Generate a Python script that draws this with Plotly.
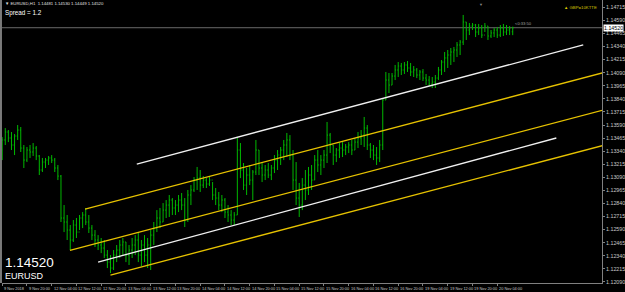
import plotly.graph_objects as go

# ---------------- data (EURUSD, H1) ----------------
opens = [1.13351, 1.13447, 1.13523, 1.13466, 1.13399, 1.13485, 1.13542, 1.13370, 1.13255, 1.13351,
         1.13332, 1.13370, 1.13294, 1.13160, 1.13236, 1.13255, 1.13275, 1.13255, 1.13179, 1.13102,
         1.12701, 1.12663, 1.12586, 1.12491, 1.12634, 1.12567, 1.12701, 1.12730, 1.12663, 1.12605,
         1.12538, 1.12491, 1.12443, 1.12414, 1.12347, 1.12280, 1.12223, 1.12347, 1.12395, 1.12443,
         1.12472, 1.12347, 1.12395, 1.12443, 1.12491, 1.12347, 1.12443, 1.12347, 1.12443, 1.12538,
         1.12605, 1.12701, 1.12663, 1.12777, 1.12825, 1.12873, 1.12797, 1.12825, 1.12873, 1.12825,
         1.12682, 1.12921, 1.12969, 1.13064, 1.13083, 1.13016, 1.13064, 1.13026, 1.13064, 1.12921,
         1.12892, 1.12825, 1.12873, 1.12758, 1.12730, 1.12682, 1.12730, 1.13351, 1.13160, 1.13016,
         1.13112, 1.13064, 1.13141, 1.13351, 1.13179, 1.13112, 1.13160, 1.13112, 1.13179, 1.13255,
         1.13303, 1.13351, 1.13399, 1.13447, 1.13303, 1.13064, 1.12892, 1.12825, 1.13016, 1.12969,
         1.13112, 1.13064, 1.13255, 1.13208, 1.13255, 1.13303, 1.13494, 1.13399, 1.13303, 1.13351,
         1.13370, 1.13351, 1.13380, 1.13399, 1.13351, 1.13427, 1.13466, 1.13494, 1.13561, 1.13399,
         1.13351, 1.13303, 1.13275, 1.13399, 1.13829, 1.14020, 1.13972, 1.14058, 1.14116, 1.14154,
         1.14116, 1.14164, 1.14135, 1.14097, 1.14116, 1.14068, 1.14097, 1.14039, 1.14020, 1.13982,
         1.14001, 1.14039, 1.14116, 1.14192, 1.14231, 1.14259, 1.14288, 1.14307, 1.14355, 1.14383,
         1.14575, 1.14498, 1.14536, 1.14546, 1.14479, 1.14517, 1.14450, 1.14536, 1.14441, 1.14470,
         1.14498, 1.14450, 1.14517, 1.14479, 1.14498, 1.14481]

highs = [1.13475, 1.13561, 1.13542, 1.13523, 1.13504, 1.13590, 1.13571, 1.13399, 1.13380, 1.13399,
         1.13418, 1.13389, 1.13303, 1.13275, 1.13275, 1.13294, 1.13303, 1.13275, 1.13208, 1.13112,
         1.12825, 1.12730, 1.12634, 1.12682, 1.12701, 1.12730, 1.12758, 1.12797, 1.12730, 1.12634,
         1.12586, 1.12538, 1.12510, 1.12491, 1.12395, 1.12347, 1.12395, 1.12443, 1.12491, 1.12510,
         1.12472, 1.12443, 1.12510, 1.12538, 1.12567, 1.12491, 1.12538, 1.12510, 1.12586, 1.12663,
         1.12777, 1.12797, 1.12844, 1.12873, 1.12921, 1.12892, 1.12873, 1.12921, 1.12940, 1.12892,
         1.12969, 1.13016, 1.13093, 1.13189, 1.13160, 1.13102, 1.13083, 1.13102, 1.13045, 1.12988,
         1.12950, 1.12921, 1.12892, 1.12825, 1.12777, 1.12758, 1.13466, 1.13418, 1.13227, 1.13179,
         1.13208, 1.13160, 1.13447, 1.13351, 1.13227, 1.13208, 1.13227, 1.13208, 1.13303, 1.13351,
         1.13380, 1.13447, 1.13514, 1.13494, 1.13351, 1.13236, 1.13036, 1.13083, 1.13160, 1.13189,
         1.13208, 1.13303, 1.13351, 1.13303, 1.13351, 1.13619, 1.13514, 1.13399, 1.13370, 1.13418,
         1.13427, 1.13408, 1.13427, 1.13447, 1.13466, 1.13523, 1.13542, 1.13667, 1.13590, 1.13418,
         1.13399, 1.13380, 1.13447, 1.13848, 1.14097, 1.14087, 1.14087, 1.14164, 1.14192, 1.14183,
         1.14192, 1.14202, 1.14183, 1.14154, 1.14135, 1.14116, 1.14125, 1.14078, 1.14058, 1.14049,
         1.14068, 1.14145, 1.14211, 1.14288, 1.14307, 1.14326, 1.14336, 1.14383, 1.14403, 1.14642,
         1.14575, 1.14565, 1.14565, 1.14556, 1.14556, 1.14546, 1.14565, 1.14536, 1.14498, 1.14517,
         1.14527, 1.14546, 1.14556, 1.14546, 1.14536, 1.14530]

lows = [1.13255, 1.13399, 1.13427, 1.13351, 1.13303, 1.13447, 1.13332, 1.13179, 1.13236, 1.13275,
        1.13294, 1.13255, 1.13112, 1.13141, 1.13179, 1.13208, 1.13227, 1.13141, 1.13064, 1.12663,
        1.12567, 1.12491, 1.12395, 1.12472, 1.12510, 1.12586, 1.12605, 1.12634, 1.12558, 1.12491,
        1.12424, 1.12395, 1.12366, 1.12319, 1.12223, 1.12175, 1.12204, 1.12280, 1.12319, 1.12347,
        1.12280, 1.12252, 1.12319, 1.12347, 1.12280, 1.12242, 1.12280, 1.12223, 1.12204, 1.12443,
        1.12567, 1.12605, 1.12663, 1.12701, 1.12711, 1.12730, 1.12730, 1.12758, 1.12777, 1.12615,
        1.12663, 1.12825, 1.12950, 1.12969, 1.12950, 1.12988, 1.12988, 1.13007, 1.12873, 1.12825,
        1.12777, 1.12758, 1.12701, 1.12663, 1.12634, 1.12634, 1.12730, 1.13083, 1.12969, 1.12921,
        1.13016, 1.12873, 1.13112, 1.13112, 1.13045, 1.13064, 1.13083, 1.13064, 1.13131, 1.13160,
        1.13208, 1.13255, 1.13284, 1.13255, 1.12969, 1.12825, 1.12711, 1.12777, 1.12873, 1.12921,
        1.12969, 1.13064, 1.13141, 1.13112, 1.13179, 1.13227, 1.13322, 1.13208, 1.13236, 1.13275,
        1.13284, 1.13303, 1.13322, 1.13303, 1.13351, 1.13370, 1.13399, 1.13380, 1.13351, 1.13275,
        1.13255, 1.13208, 1.13236, 1.13351, 1.13829, 1.13896, 1.13972, 1.14020, 1.14049, 1.14068,
        1.14078, 1.14097, 1.14058, 1.14049, 1.14039, 1.14020, 1.14011, 1.13972, 1.13963, 1.13944,
        1.13944, 1.14020, 1.14068, 1.14097, 1.14135, 1.14164, 1.14192, 1.14240, 1.14259, 1.14355,
        1.14403, 1.14450, 1.14498, 1.14431, 1.14450, 1.14422, 1.14479, 1.14403, 1.14422, 1.14431,
        1.14422, 1.14431, 1.14441, 1.14450, 1.14450, 1.14449]

closes = [1.13447, 1.13523, 1.13466, 1.13399, 1.13485, 1.13542, 1.13370, 1.13255, 1.13351, 1.13332,
          1.13370, 1.13294, 1.13160, 1.13236, 1.13255, 1.13275, 1.13255, 1.13179, 1.13102, 1.12701,
          1.12663, 1.12586, 1.12491, 1.12634, 1.12567, 1.12701, 1.12730, 1.12663, 1.12605, 1.12538,
          1.12491, 1.12443, 1.12414, 1.12347, 1.12280, 1.12223, 1.12347, 1.12395, 1.12443, 1.12472,
          1.12347, 1.12395, 1.12443, 1.12491, 1.12347, 1.12443, 1.12347, 1.12443, 1.12538, 1.12605,
          1.12701, 1.12663, 1.12777, 1.12825, 1.12873, 1.12797, 1.12825, 1.12873, 1.12825, 1.12682,
          1.12921, 1.12969, 1.13064, 1.13083, 1.13016, 1.13064, 1.13026, 1.13064, 1.12921, 1.12892,
          1.12825, 1.12873, 1.12758, 1.12730, 1.12682, 1.12730, 1.13351, 1.13160, 1.13016, 1.13112,
          1.13064, 1.13141, 1.13351, 1.13179, 1.13112, 1.13160, 1.13112, 1.13179, 1.13255, 1.13303,
          1.13351, 1.13399, 1.13447, 1.13303, 1.13064, 1.12892, 1.12825, 1.13016, 1.12969, 1.13112,
          1.13064, 1.13255, 1.13208, 1.13255, 1.13303, 1.13494, 1.13399, 1.13303, 1.13351, 1.13370,
          1.13351, 1.13380, 1.13399, 1.13351, 1.13427, 1.13466, 1.13494, 1.13561, 1.13399, 1.13351,
          1.13303, 1.13275, 1.13399, 1.13829, 1.14020, 1.13972, 1.14058, 1.14116, 1.14154, 1.14116,
          1.14164, 1.14135, 1.14097, 1.14116, 1.14068, 1.14097, 1.14039, 1.14020, 1.13982, 1.14001,
          1.14039, 1.14116, 1.14192, 1.14231, 1.14259, 1.14288, 1.14307, 1.14355, 1.14383, 1.14575,
          1.14498, 1.14536, 1.14546, 1.14479, 1.14517, 1.14450, 1.14536, 1.14441, 1.14470, 1.14498,
          1.14450, 1.14517, 1.14479, 1.14498, 1.14517, 1.14520]

time_labels = ["9 Nov 2018", "9 Nov 20:00", "12 Nov 04:00", "12 Nov 12:00", "12 Nov 20:00",
               "13 Nov 04:00", "13 Nov 12:00", "13 Nov 20:00", "14 Nov 04:00", "14 Nov 12:00",
               "14 Nov 20:00", "15 Nov 04:00", "15 Nov 12:00", "15 Nov 20:00", "16 Nov 04:00",
               "16 Nov 12:00", "16 Nov 20:00", "19 Nov 04:00", "19 Nov 12:00", "19 Nov 20:00",
               "20 Nov 04:00"]
bars_per_label = 8

price_labels = ["1.14715", "1.14590", "1.14465", "1.14340", "1.14215", "1.14090", "1.13965",
                "1.13840", "1.13715", "1.13590", "1.13465", "1.13340", "1.13215", "1.13090",
                "1.12965", "1.12840", "1.12715", "1.12590", "1.12465", "1.12340", "1.12215",
                "1.12090"]

bid_price = 1.14520

# trend lines: (bar, price) anchors
white_x0 = [43.5, 31.0]
white_y0 = [1.13217, 1.12280]
white_x1 = [187.8, 179.1]
white_y1 = [1.14355, 1.13466]

yellow_x0 = [26.8, 21.9, 35.0]
yellow_y0 = [1.12787, 1.12392, 1.12156]
yellow_x1 = [200.0, 200.0, 200.0]
yellow_y1 = [1.14135, 1.13778, 1.13440]

# ---------------- figure ----------------
GREEN = "#00b800"
AXIS = "#808080"
TXT = "#c8c8c8"
FONT = "Liberation Sans, Arial, sans-serif"

bars = list(range(len(closes)))

fig = go.Figure()
fig.add_trace(go.Ohlc(
    x=bars, open=opens, high=highs, low=lows, close=closes,
    increasing=dict(line=dict(color=GREEN, width=1)),
    decreasing=dict(line=dict(color=GREEN, width=1)),
    tickwidth=0.3, hoverinfo="skip", showlegend=False))


def seg(x0s, y0s, x1s, y1s):
    xs, ys = [], []
    for a, b, c, d in zip(x0s, y0s, x1s, y1s):
        xs += [a, c, None]
        ys += [b, d, None]
    return xs, ys


wx, wy = seg(white_x0, white_y0, white_x1, white_y1)
yx, yy = seg(yellow_x0, yellow_y0, yellow_x1, yellow_y1)
fig.add_trace(go.Scatter(x=yx, y=yy, mode="lines", line=dict(color="#e6c200", width=1.3),
                         hoverinfo="skip", showlegend=False))
fig.add_trace(go.Scatter(x=wx, y=wy, mode="lines", line=dict(color="#f0f0f0", width=1.3),
                         hoverinfo="skip", showlegend=False))

price_vals = [float(s) for s in price_labels]
label_pos = [k * bars_per_label for k in range(len(time_labels))]

annotations = []
for pos, lab in zip(label_pos, time_labels):
    annotations.append(dict(x=pos, y=0, xref="x", yref="paper", text=lab, showarrow=False,
                            xanchor="left", yanchor="top", xshift=0, yshift=-1,
                            font=dict(family=FONT, size=3.9, color=TXT)))

annotations += [
    dict(x=0.0017, y=0.986, xref="paper", yref="paper", xanchor="left", yanchor="middle",
         text="▼ EURUSD,H1  1.14481 1.14530 1.14449 1.14520", showarrow=False,
         font=dict(family=FONT, size=4.3, color="#e0e0e0")),
    dict(x=0.0017, y=0.954, xref="paper", yref="paper", xanchor="left", yanchor="middle",
         text="Spread = 1.2", showarrow=False,
         font=dict(family=FONT, size=6.3, color="#ffffff")),
    dict(x=0.0017, y=0.071, xref="paper", yref="paper", xanchor="left", yanchor="middle",
         text="1.14520", showarrow=False,
         font=dict(family=FONT, size=13.5, color="#ffffff")),
    dict(x=0.0017, y=0.023, xref="paper", yref="paper", xanchor="left", yanchor="middle",
         text="EURUSD", showarrow=False,
         font=dict(family=FONT, size=9, color="#ffffff")),
    dict(x=0.995, y=0.975, xref="paper", yref="paper", xanchor="right", yanchor="middle",
         text="▲ GBP=10KTTE", showarrow=False,
         font=dict(family=FONT, size=4.3, color="#d8c400")),
    dict(x=165, y=bid_price, xref="x", yref="y", xanchor="left", yanchor="bottom",
         text="<0:33:50", showarrow=False, yshift=0,
         font=dict(family=FONT, size=4.1, color="#a0a0a0")),
    dict(x=1, y=bid_price, xref="paper", yref="y", xanchor="left", yanchor="middle",
         text="1.14520", showarrow=False, xshift=1, bgcolor="#ffffff", borderpad=0,
         font=dict(family=FONT, size=5.3, color="#000000")),
    dict(x=154.7, y=1, xref="x", yref="paper", xanchor="center", yanchor="top",
         text="▼", showarrow=False,
         font=dict(family=FONT, size=4, color="#8a8a8a")),
]

shapes = [
    dict(type="line", xref="paper", yref="y", x0=0, x1=1, y0=bid_price, y1=bid_price,
         line=dict(color="#6a6a6a", width=1), layer="below"),
    dict(type="line", xref="paper", yref="paper", x0=-0.0017, x1=-0.0017, y0=0, y1=1,
         line=dict(color="#7a7a7a", width=2)),
]

fig.update_layout(
    width=625, height=292,
    margin=dict(l=2, r=17, t=0, b=9, pad=0),
    paper_bgcolor="#000000", plot_bgcolor="#000000",
    showlegend=False,
    annotations=annotations,
    shapes=shapes,
    xaxis=dict(range=[-0.06, 193.86], showgrid=False, zeroline=False,
               showline=True, linecolor=AXIS, linewidth=1,
               ticks="outside", ticklen=2, tickcolor=AXIS, tickwidth=1,
               tickvals=label_pos, showticklabels=False,
               rangeslider=dict(visible=False), fixedrange=True),
    yaxis=dict(side="right", range=[1.12080, 1.14785], showgrid=False, zeroline=False,
               showline=True, linecolor=AXIS, linewidth=1,
               ticks="outside", ticklen=2, tickcolor=AXIS, tickwidth=1,
               tickvals=price_vals, ticktext=price_labels,
               tickfont=dict(family=FONT, size=5.3, color=TXT), fixedrange=True),
)

fig.write_html("out.html")
